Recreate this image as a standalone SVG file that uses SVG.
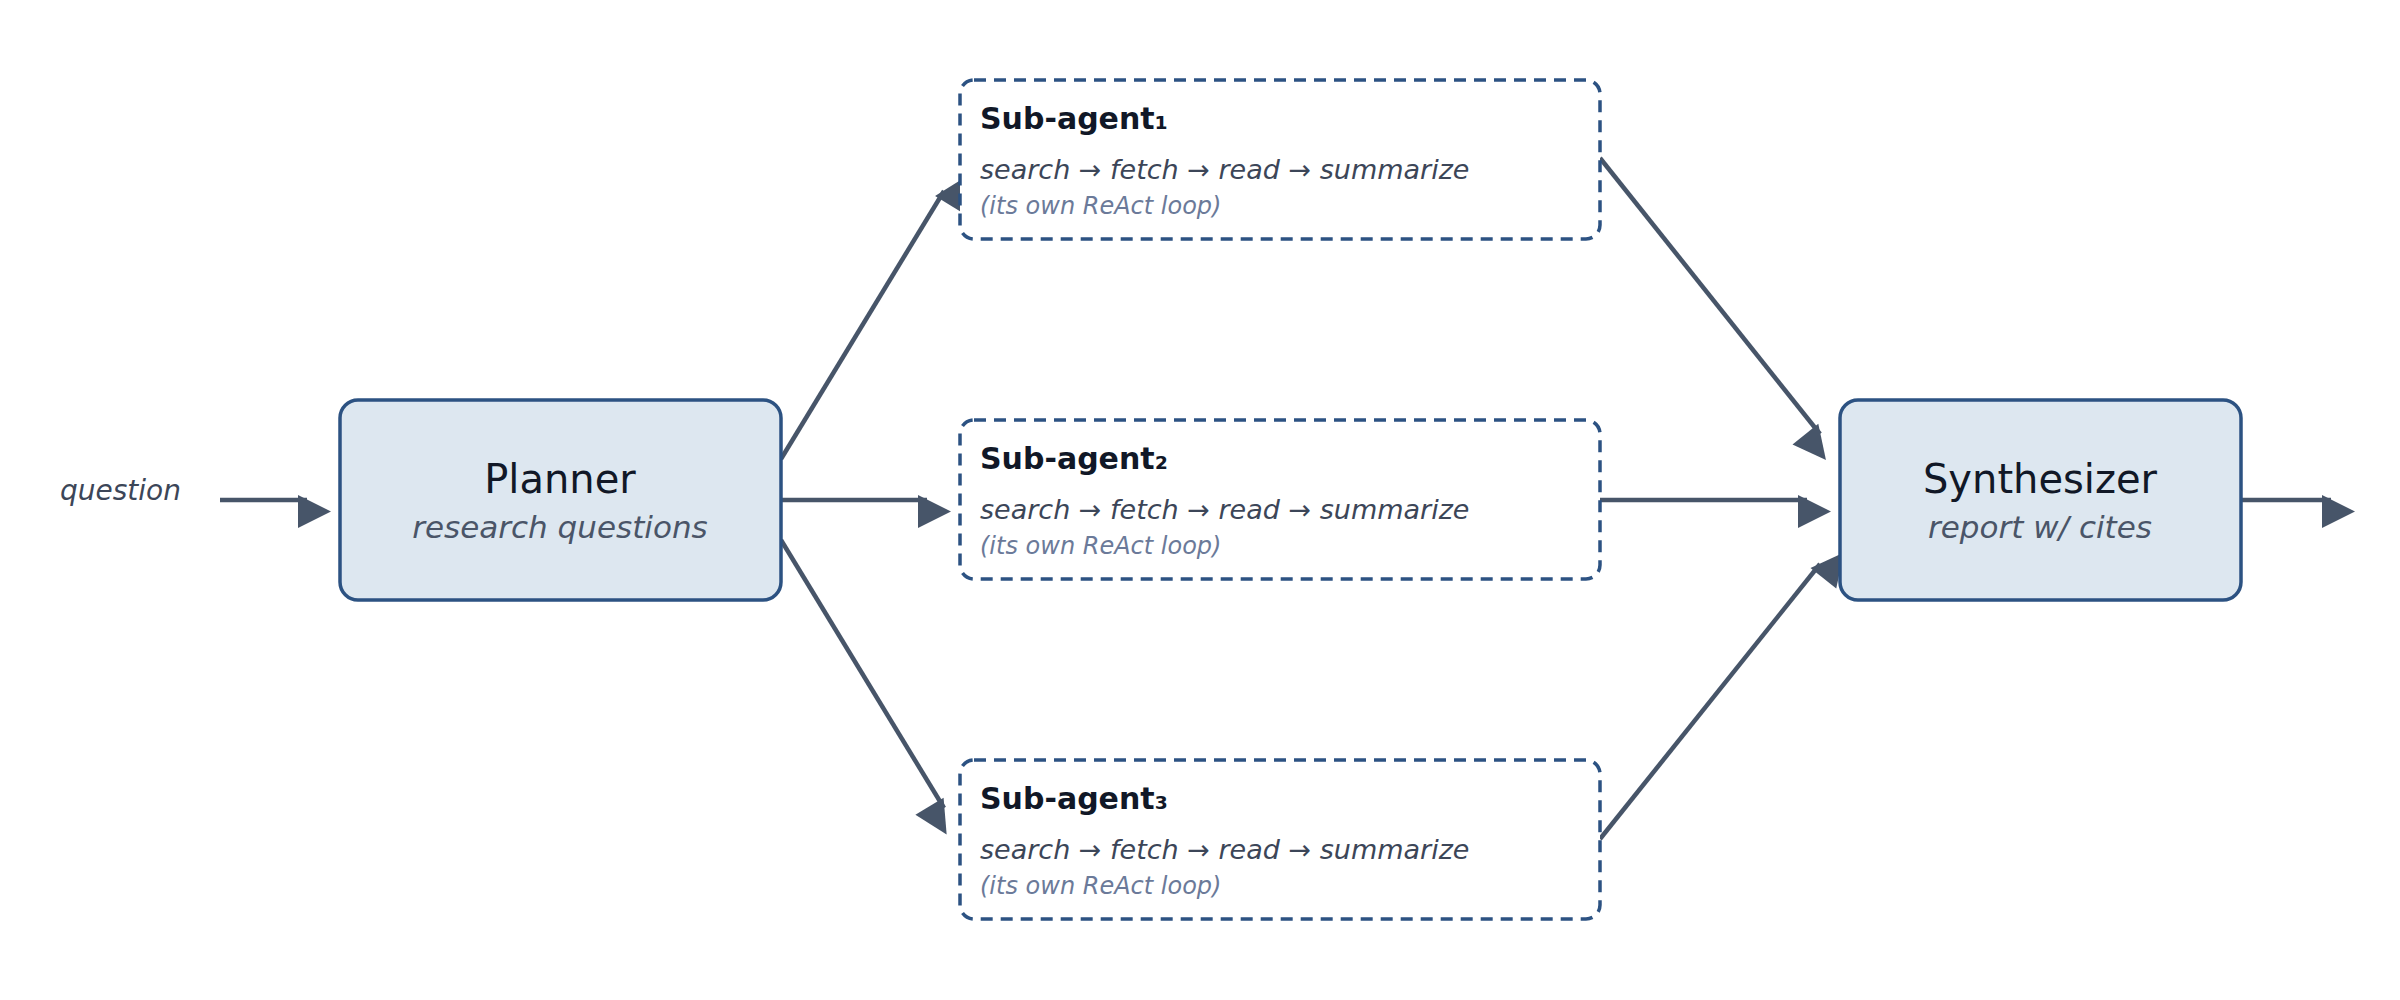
<svg xmlns="http://www.w3.org/2000/svg" width="2400" height="1000" viewBox="0 0 2400 1000">
<style>
text{font-family:"DejaVu Sans","Noto Sans",sans-serif}
.solid{fill:#dde7f0;stroke:#2c5282;stroke-width:3.5}
.dash{fill:#fff;stroke:#2c5282;stroke-width:3.5;stroke-dasharray:12 8}
.ttl{font-size:40px;fill:#111827;text-anchor:middle}
.sub{font-size:31px;fill:#4a5568;font-style:italic;text-anchor:middle}
.h{font-size:30px;font-weight:bold;fill:#111827}
.l{font-size:27px;font-style:italic;fill:#3c4658}
.n{font-size:24px;font-style:italic;fill:#6b7a99}
.c{stroke:#475569;stroke-width:4.5;fill:none;marker-end:url(#a)}
</style>
<defs><marker id="a" markerWidth="10" markerHeight="10" refX="9" refY="5" orient="auto" markerUnits="userSpaceOnUse" viewBox="0 0 10 10" style="overflow:visible"><path d="M0,0 L10,5 L0,10 Z" fill="#475569" transform="scale(3.3)" /></marker></defs>
<rect width="2400" height="1000" fill="#fff"/>
<g id="connectors">
<line class="c" x1="220" y1="500" x2="307" y2="500"/>
<line class="c" x1="781" y1="459" x2="944" y2="191"/>
<line class="c" x1="781" y1="500" x2="927" y2="500"/>
<line class="c" x1="781" y1="540" x2="944" y2="808"/>
<line class="c" x1="1600" y1="158" x2="1820" y2="434"/>
<line class="c" x1="1600" y1="500" x2="1807" y2="500"/>
<line class="c" x1="1600" y1="839" x2="1820" y2="564"/>
<line class="c" x1="2241" y1="500" x2="2331" y2="500"/>
</g>
<g id="question"><text x="60" y="500" style="font-size:28px;font-style:italic;fill:#3c4658">question</text></g>
<g id="planner"><rect class="solid" x="340" y="400" width="441" height="200" rx="18"/>
<text class="ttl" x="560" y="493">Planner</text><text class="sub" x="560" y="538">research questions</text></g>
<g id="synth"><rect class="solid" x="1840" y="400" width="401" height="200" rx="18"/>
<text class="ttl" x="2040" y="493">Synthesizer</text><text class="sub" x="2040" y="538">report w/ cites</text></g>
<g id="sub1"><rect class="dash" x="960" y="80" width="640" height="159" rx="14"/>
<text class="h" x="980" y="129">Sub-agent₁</text><text class="l" x="980" y="179">search → fetch → read → summarize</text><text class="n" x="980" y="214">(its own ReAct loop)</text></g>
<g id="sub2"><rect class="dash" x="960" y="420" width="640" height="159" rx="14"/>
<text class="h" x="980" y="469">Sub-agent₂</text><text class="l" x="980" y="519">search → fetch → read → summarize</text><text class="n" x="980" y="554">(its own ReAct loop)</text></g>
<g id="sub3"><rect class="dash" x="960" y="760" width="640" height="159" rx="14"/>
<text class="h" x="980" y="809">Sub-agent₃</text><text class="l" x="980" y="859">search → fetch → read → summarize</text><text class="n" x="980" y="894">(its own ReAct loop)</text></g>
</svg>
